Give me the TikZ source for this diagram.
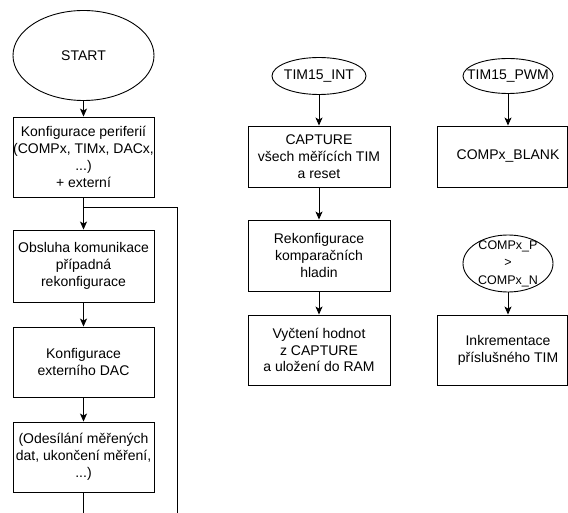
\documentclass[tikz,border=0pt]{standalone}
\usepackage{fontspec}
\setmainfont{Liberation Sans}
\usetikzlibrary{shapes.geometric,arrows.meta}
\begin{document}
\begin{tikzpicture}[x=1pt,y=-1pt,
  line width=0.9pt,
  txt/.style={font=\fontsize{14}{16.8}\selectfont},
  box/.style={draw, rectangle, minimum width=141pt, minimum height=70pt, inner xsep=0pt, align=center, txt},
  frame/.style={draw, rectangle, minimum width=130pt, inner sep=0pt},
  oval/.style={draw, ellipse, inner sep=0pt},
  lbl/.style={align=center, inner sep=0pt, txt},
  arr/.style={-{Stealth[length=8pt,width=7pt,inset=2pt]}},
  plain/.style={-}
]
\useasboundingbox (0,0) rectangle (568,513);
% left column
\node[oval, minimum width=141pt, minimum height=90pt] (start) at (83.5,55.5) {};
\node[lbl] (starttxt) at (start) {START};
\node[box, minimum height=80pt] (b1) at (83.5,157) {Konfigurace periferií\\(COMPx, TIMx, DACx,\\...)\\+ externí};
\node[box, minimum height=72pt] (b2) at (83.5,266) {Obsluha komunikace\\případná\\rekonfigurace};
\node[box] (b3) at (83.5,362) {Konfigurace\\externího DAC};
\node[box] (b4) at (83.5,457) {(Odesílání měřených\\dat, ukončení měření,\\...)};
\coordinate (j) at (83.5,207);
\coordinate (jr) at (177,207);
\coordinate (bl) at (83.5,514);
\coordinate (br) at (177,514);
\draw[arr] (start) -- (b1);
\draw[plain] (b1) -- (j);
\draw[arr] (j) -- (b2);
\draw[plain] (j) -- (jr) -- (br);
\draw[arr] (b2) -- (b3);
\draw[arr] (b3) -- (b4);
\draw[plain] (b4) -- (bl);
% middle column
\node[oval, minimum width=94pt, minimum height=37pt] (int) at (319,76) {};
\node[lbl] (inttxt) at (int) {TIM15\_INT};
\node[box, minimum width=142pt, minimum height=61pt] (cap) at (319,156.5) {CAPTURE\\všech měřících TIM\\a reset};
\node[box, minimum width=142pt, minimum height=71pt] (rek) at (319,255.5) {Rekonfigurace\\komparačních\\hladin};
\node[box, minimum width=142pt, minimum height=70pt] (vyc) at (319,350) {Vyčtení hodnot\\z CAPTURE\\a uložení do RAM};
\draw[arr] (int) -- (cap);
\draw[arr] (cap) -- (rek);
\draw[arr] (rek) -- (vyc);
% right column
\node[oval, minimum width=90pt, minimum height=35pt] (pwm) at (508,76) {};
\node[lbl] (pwmtxt) at (pwm) {TIM15\_PWM};
\node[frame, minimum height=61pt] (blank) at (502,156.5) {};
\node[lbl] (blanktxt) at (508,156.5) {COMPx\_BLANK};
\node[oval, minimum width=90pt, minimum height=57pt] (cmp) at (508,263.5) {};
\node[lbl, font=\fontsize{12.5}{17.5}\selectfont] (cmptxt) at (cmp) {COMPx\_P\\>\\COMPx\_N};
\node[frame, minimum height=70pt] (ink) at (502,350) {};
\node[lbl] (inktxt) at (508,350) {Inkrementace\\příslušného TIM};
\draw[arr] (pwm.south) -- (pwm.south |- blank.north);
\draw[arr] (cmp.south) -- (cmp.south |- ink.north);
\end{tikzpicture}
\end{document}
